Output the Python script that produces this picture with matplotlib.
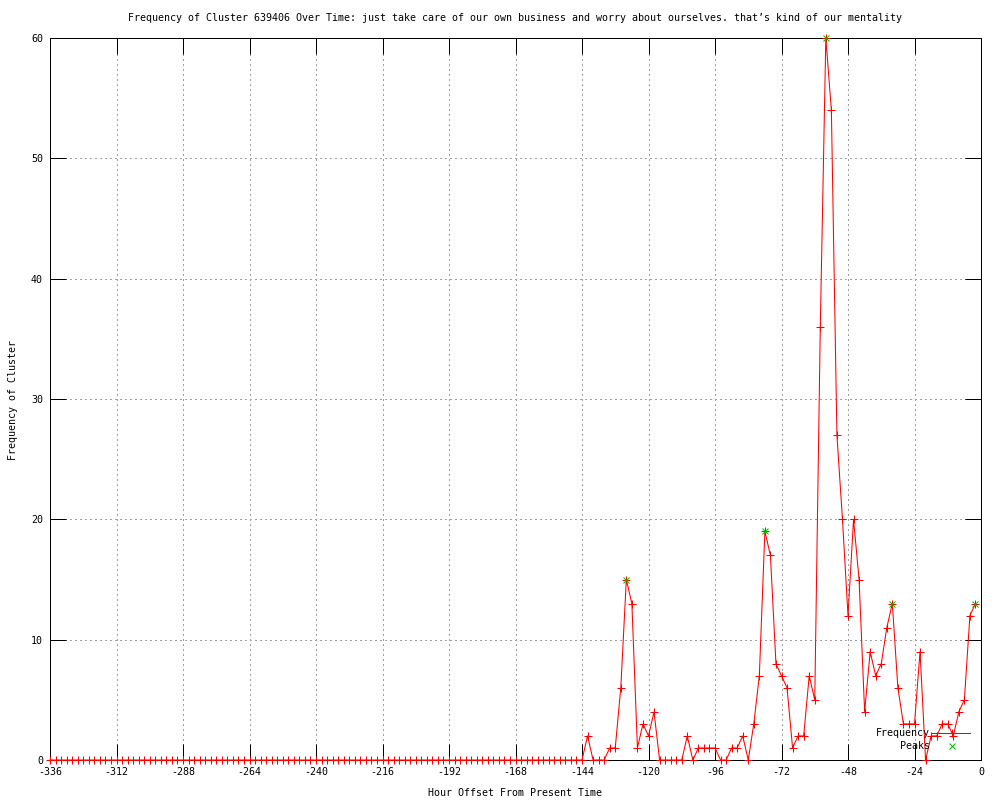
import matplotlib
matplotlib.use("Agg")
import matplotlib.pyplot as plt
from matplotlib.lines import Line2D

plt.rcParams['font.family'] = ['DejaVu Sans Mono', 'DejaVu Sans']
plt.rcParams['axes.unicode_minus'] = False

# ---------------- data ----------------
hours = list(range(-336, 0, 2))
frequency = [
    0, 0, 0, 0, 0, 0, 0, 0, 0, 0, 0, 0, 0, 0, 0, 0,
    0, 0, 0, 0, 0, 0, 0, 0, 0, 0, 0, 0, 0, 0, 0, 0,
    0, 0, 0, 0, 0, 0, 0, 0, 0, 0, 0, 0, 0, 0, 0, 0,
    0, 0, 0, 0, 0, 0, 0, 0, 0, 0, 0, 0, 0, 0, 0, 0,
    0, 0, 0, 0, 0, 0, 0, 0, 0, 0, 0, 0, 0, 0, 0, 0,
    0, 0, 0, 0, 0, 0, 0, 0, 0, 0, 0, 0, 0, 0, 0, 0,
    0,
    2, 0, 0, 0, 1, 1, 6, 15, 13, 1, 3, 2, 4, 0,
    0, 0, 0, 0, 2, 0, 1, 1, 1, 1, 0, 0, 1, 1,
    2, 0, 3, 7, 19, 17, 8, 7, 6, 1, 2, 2, 7, 5,
    36, 60, 54, 27, 20, 12, 20, 15, 4, 9, 7, 8, 11, 13,
    6, 3, 3, 3, 9, 0, 2, 2, 3, 3, 2, 4, 5, 12, 13,
]
peak_hours = [-128, -78, -56, -32, -2]
peak_values = [15, 19, 60, 13, 13]

x_ticks = [-336, -312, -288, -264, -240, -216, -192, -168, -144, -120, -96, -72, -48, -24, 0]
y_ticks = [0, 10, 20, 30, 40, 50, 60]

title = ("Frequency of Cluster 639406 Over Time: just take care of our own business "
         "and worry about ourselves. that\u2019s kind of our mentality")
xlabel = "Hour Offset From Present Time"
ylabel = "Frequency of Cluster"
series_labels = ["Frequency", "Peaks"]

RED = "#ff0000"
GREEN = "#00c000"
FS = 7.2
LW = 0.72

# ---------------- figure ----------------
fig = plt.figure(figsize=(10, 8), dpi=100)
ax = fig.add_axes([0.05, 0.05, 0.931, 0.9025])

ax.plot(hours, frequency, color=RED, lw=0.75, marker='+', ms=5.5, mew=0.75,
        clip_on=False, zorder=3)
ax.plot(peak_hours, peak_values, ls='none', marker='x', color=GREEN, ms=5,
        mew=0.75, clip_on=False, zorder=4)

ax.set_xlim(-336, 0)
ax.set_ylim(0, 60)
ax.set_xticks(x_ticks)
ax.set_yticks(y_ticks)
ax.tick_params(direction='in', length=11.5, width=LW, top=True, right=True,
               labelsize=FS, pad=5, colors='black')
ax.grid(True, color='#a0a0a0', lw=LW, ls=(0, (2, 3)), antialiased=False)
ax.set_axisbelow(True)
for s in ax.spines.values():
    s.set_linewidth(LW)
    s.set_color('black')
    s.set_antialiased(False)

fig.text(0.5155, 1 - 18 / 800, title, ha='center', va='center', fontsize=FS)
fig.text(0.5155, 1 - 793 / 800, xlabel, ha='center', va='center', fontsize=FS)
fig.text(0.013, 1 - 400 / 800, ylabel, ha='center', va='center', rotation=90, fontsize=FS)

# ---------------- key ----------------
ky1 = 1 - 733 / 800
ky2 = 1 - 746 / 800
fig.text(0.930, ky1, series_labels[0], ha='right', va='center', fontsize=FS)
fig.text(0.930, ky2, series_labels[1], ha='right', va='center', fontsize=FS)
fig.add_artist(Line2D([0.932, 0.970], [ky1, ky1], transform=fig.transFigure,
                      color=RED, lw=0.75))
fig.add_artist(Line2D([0.952], [ky1], transform=fig.transFigure, color=RED,
                      marker='+', ms=5.5, mew=0.75, ls='none'))
fig.add_artist(Line2D([0.952], [ky2], transform=fig.transFigure, color=GREEN,
                      marker='x', ms=5, mew=0.75, ls='none'))

fig.savefig("out.png", dpi=100)
